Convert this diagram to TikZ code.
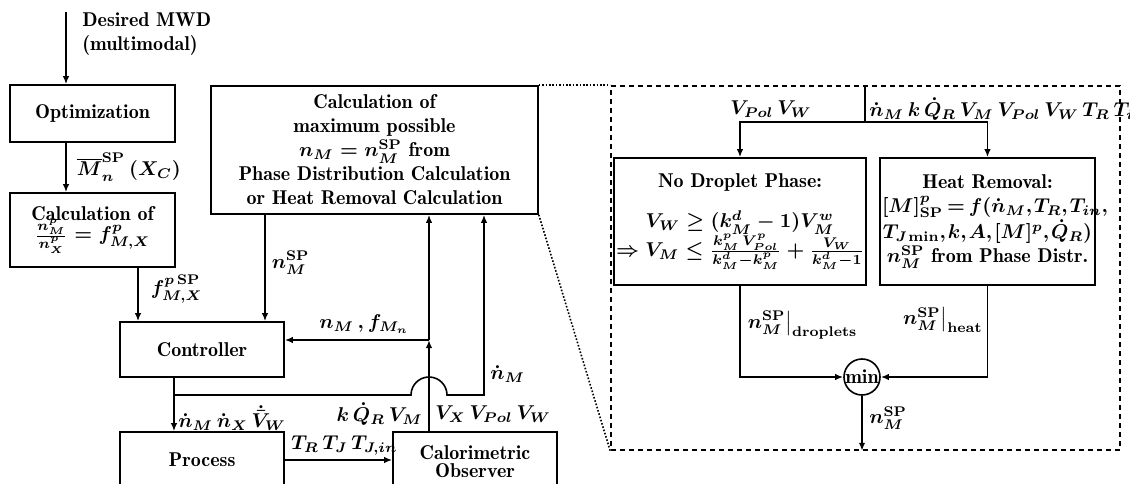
\documentclass[tikz,border=0pt]{standalone}
\usepackage{amsmath}
\usetikzlibrary{arrows.meta,calc}

\newcommand{\figfont}{\normalsize\fontseries{b}\selectfont\boldmath}
\newcommand{\tightmath}{\thinmuskip=1.5mu\relax\medmuskip=2.5mu\relax\thickmuskip=3mu\relax}
\tikzset{
  block/.style={draw, line width=0.8pt, align=center, inner sep=2pt,
    font=\figfont},
  sig/.style={inner sep=1pt, font=\figfont},
  flow/.style={-{Latex[length=4pt,width=3.2pt]}, line width=0.8pt},
  wire/.style={line width=0.8pt},
  zoomframe/.style={draw, line width=0.8pt, dash pattern=on 2.5pt off 2pt,
    inner sep=0pt},
  zoomline/.style={line width=0.8pt, dash pattern=on 0.8pt off 0.9pt}
}

\begin{document}
\begin{tikzpicture}[x=0.5pt, y=-0.5pt]
\useasboundingbox (0,0) rectangle (1130,483);
\clip (0,0) rectangle (1130,483);

% left chain
\node[block, minimum width=82.5pt, minimum height=28.5pt] (opt) at (92.5,113.5) {Optimization};
\node[block, minimum width=82.5pt, minimum height=37pt] (calcf) at (92.5,230)
  {Calculation of\\[-2pt] $\frac{n^p_M}{n^p_X} = f^p_{M,X}$};
\node[block, minimum width=82pt, minimum height=27.5pt] (ctrl) at (202,349.5) {Controller};
\node[block, minimum width=82pt, minimum height=27.5pt] (proc) at (202,459.5) {Process};
\node[block, minimum width=82pt, minimum height=30pt] (obs) at (475,462)
  {Calorimetric\\[-3pt] Observer};
\node[block, minimum width=163.5pt, minimum height=64pt] (calcmax) at (374.5,150)
  {Calculation of\\ maximum possible\\ $n_M = n_M^{\mathrm{SP}}$ from\\
   Phase Distribution Calculation\\ or Heat Removal Calculation};

% zoomed part
\node[zoomframe, minimum width=254.5pt, minimum height=182pt] (zoom) at (865.5,268) {};
\node[block, minimum width=126pt, minimum height=63.5pt, text width=124pt, inner sep=1pt]
  (nodrop) at (740,221.5)
  {No Droplet Phase:\\[8pt] \mbox{$V_W \geq (k^d_M-1)V^w_M$}\\[-1pt]
   \mbox{$\Rightarrow V_M \leq \frac{k^p_M\,V^p_{Pol}}{k^d_M-k^p_M}+\frac{V_W}{k^d_M-1}$}};
\node[block, minimum width=107.5pt, minimum height=63.5pt, text width=105.5pt, inner sep=1pt,
  font=\figfont\tightmath]
  (heat) at (987.5,221.5)
  {Heat Removal:\\ \mbox{$[M]^p_{\mathrm{SP}} = f(\dot n_M, T_R, T_{in},$}\\
   \mbox{$T_{J\min}, k, A, [M]^p, \dot Q_R)$}\\ \mbox{$n^{\mathrm{SP}}_M$ from Phase Distr.}};
\node[block, circle, inner sep=0pt, minimum size=18pt] (minop) at (862,377) {min};

\draw[zoomline] (calcmax.north east) -- (zoom.north west);
\draw[zoomline] (calcmax.south east) -- (zoom.south west);

% signals left
\coordinate (in) at (66,12);
\draw[flow] (in) -- (in |- opt.north);
\node[sig, anchor=north west, align=left] (mwd) at (80,10) {Desired MWD\\(multimodal)};
\draw[flow] (in |- opt.south) -- (in |- calcf.north)
  node[sig, midway, right=4pt] {$\overline{M}^{\mathrm{SP}}_n\,(X_C)$};
\draw[flow] ([xshift=22.75pt]calcf.south) -- ([xshift=22.75pt]calcf.south |- ctrl.north)
  node[sig, pos=0.4, right=5pt] {$f^{p\,\mathrm{SP}}_{M,X}$};
\draw[flow] ([xshift=-54.75pt]calcmax.south) -- ([xshift=-54.75pt]calcmax.south |- ctrl.north)
  node[sig, pos=0.45, right=2pt] {$n^{\mathrm{SP}}_M$};

% observer feedback
\coordinate (br) at (429,340);
\draw[flow] ([xshift=-23pt]obs.north) -- (br);
\draw[flow] (br) -- (br |- calcmax.south);
\draw[flow] (br) -- (br -| ctrl.east)
  node[sig, pos=0.45, above=2pt] {$n_M\,, f_{M_n}$};
\node[sig, anchor=east] (obsl) at (425,414) {$k\,\dot Q_R\,V_M$};
\node[sig, anchor=west] (obsr) at (433,414) {$V_X\,V_{Pol}\,V_W$};

% controller outputs
\coordinate (split) at (174,395);
\coordinate (hump) at (429,395);
\coordinate (nin) at ([xshift=54.75pt]calcmax.south);
\draw[flow] ([xshift=-14pt]ctrl.south) -- ([xshift=-14pt]proc.north);
\draw[flow] (split) -- ([xshift=-9pt]hump) arc[start angle=180, end angle=0, radius=9pt]
  -- (hump -| nin) -- (nin);
\node[sig, anchor=west] (ndot) at (488,374) {$\dot n_M$};
\node[sig, anchor=west] (ctrlout) at (176,418) {$\dot n_M\,\dot n_X\,\dot{\bar V}_W$};

% process to observer
\draw[flow] (proc.east |- 0,460) -- (obs.west |- 0,460);
\node[sig, anchor=west] (temps) at (289,445) {$T_R\,T_J\,T_{J,in}$};

% inside zoom
\coordinate (fork) at (865,122);
\draw[wire] (zoom.north -| fork) -- (fork);
\draw[flow] (fork) -| (nodrop.north);
\draw[flow] (fork) -| (heat.north);
\node[sig, anchor=east] (vin) at (814,109) {$V_{Pol}\,V_W$};
\node[sig, anchor=west] (hin) at (867,109) {$\dot n_M\,k\,\dot Q_R\,V_M\,V_{Pol}\,V_W\,T_R\,T_{in}$};
\draw[flow] (nodrop.south) |- (minop.west);
\draw[flow] (heat.south) |- (minop.east);
\draw[flow] (minop.south) -- (minop.south |- zoom.south);
\node[sig, anchor=west] (ndrop) at (743,325) {$\left.n^{\mathrm{SP}}_M\right|_{\mathrm{droplets}}$};
\node[sig, anchor=east] (nheat) at (985,320) {$\left.n^{\mathrm{SP}}_M\right|_{\mathrm{heat}}$};
\node[sig, anchor=west] (nout) at (867,418) {$n^{\mathrm{SP}}_M$};
\end{tikzpicture}
\end{document}
